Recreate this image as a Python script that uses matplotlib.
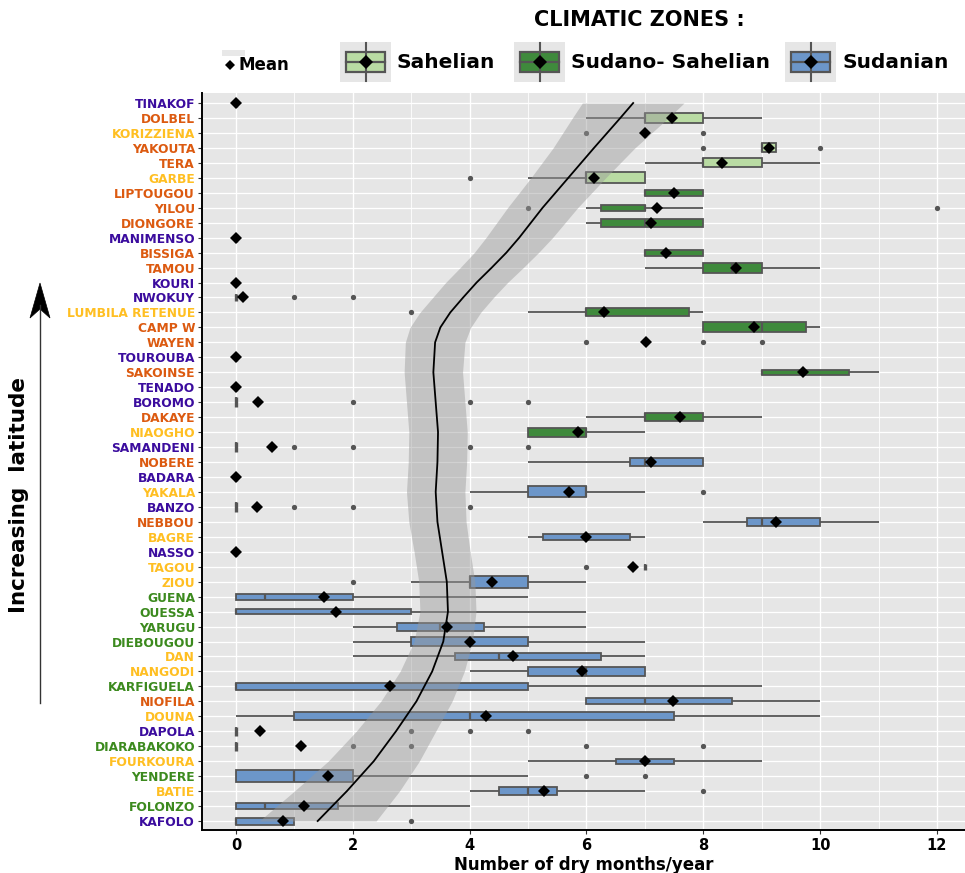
import matplotlib
matplotlib.use("Agg")
import matplotlib.pyplot as plt
from matplotlib.patches import Rectangle, Polygon

# ---------------- data ----------------
stations = ["TINAKOF", "DOLBEL", "KORIZZIENA", "YAKOUTA", "TERA", "GARBE", "LIPTOUGOU",
            "YILOU", "DIONGORE", "MANIMENSO", "BISSIGA", "TAMOU", "KOURI", "NWOKUY",
            "LUMBILA RETENUE", "CAMP W", "WAYEN", "TOUROUBA", "SAKOINSE", "TENADO",
            "BOROMO", "DAKAYE", "NIAOGHO", "SAMANDENI", "NOBERE", "BADARA", "YAKALA",
            "BANZO", "NEBBOU", "BAGRE", "NASSO", "TAGOU", "ZIOU", "GUENA", "OUESSA",
            "YARUGU", "DIEBOUGOU", "DAN", "NANGODI", "KARFIGUELA", "NIOFILA", "DOUNA",
            "DAPOLA", "DIARABAKOKO", "FOURKOURA", "YENDERE", "BATIE", "FOLONZO", "KAFOLO"]

label_class = ["P", "O", "Y", "O", "O", "Y", "O", "O", "O", "P", "O", "O", "P", "P",
               "Y", "O", "O", "P", "O", "P", "P", "O", "Y", "P", "O", "P", "Y", "P",
               "O", "Y", "P", "Y", "Y", "G", "G", "G", "G", "Y", "Y", "G", "O", "Y",
               "P", "G", "Y", "G", "Y", "G", "P"]

zone = ["Sahelian"] * 6 + ["Sudano-Sahelian"] * 17 + ["Sudanian"] * 26

q1 =      [0, 7, 7, 9, 8, 6, 7, 6.25, 6.25, 0, 7, 8, 0, 0, 6, 8, 7, 0, 9, 0,
           0, 7, 5, 0, 6.75, 0, 5, 0, 8.75, 5.25, 0, 7, 4, 0, 0, 2.75, 3, 3.75, 5, 0,
           6, 1, 0, 0, 6.5, 0, 4.5, 0, 0]
median =  [0, 7, 7, 9, 8, 6, 7, 7, 7, 0, 7, 8.5, 0, 0, 6, 9, 7, 0, 9, 0,
           0, 7, 6, 0, 7, 0, 6, 0, 9, 6, 0, 7, 4, 0.5, 0, 3.5, 4, 4.5, 6, 0,
           7, 4, 0, 0, 7, 1, 5, 0.5, 0]
q3 =      [0, 8, 7, 9.25, 9, 7, 8, 7, 8, 0, 8, 9, 0, 0, 7.75, 9.75, 7, 0, 10.5, 0,
           0, 8, 6, 0, 8, 0, 6, 0, 10, 6.75, 0, 7, 5, 2, 3, 4.25, 5, 6.25, 7, 5,
           8.5, 7.5, 0, 0, 7.5, 2, 5.5, 1.75, 1]
whisk_lo = [0, 6, 7, 9, 7, 5, 7, 6, 6, 0, 7, 7, 0, 0, 5, 8, 7, 0, 9, 0,
            0, 6, 5, 0, 5, 0, 4, 0, 8, 5, 0, 7, 3, 0, 0, 2, 2, 2, 4, 0,
            6, 0, 0, 0, 5, 0, 4, 0, 0]
whisk_hi = [0, 9, 7, 9.25, 10, 7, 8, 8, 8, 0, 8, 10, 0, 0, 8, 10, 7, 0, 11, 0,
            0, 9, 7, 0, 8, 0, 7, 0, 11, 7, 0, 7, 6, 5, 6, 6, 7, 7, 7, 9,
            10, 10, 0, 0, 9, 5, 7, 4, 1]
means =   [0, 7.47, 7.0, 9.12, 8.32, 6.13, 7.5, 7.2, 7.1, 0, 7.37, 8.56, 0, 0.12,
           6.3, 8.86, 7.02, 0, 9.7, 0, 0.37, 7.6, 5.85, 0.62, 7.1, 0, 5.71, 0.36,
           9.24, 6.0, 0, 6.8, 4.39, 1.51, 1.72, 3.62, 4.0, 4.75, 5.93, 2.63, 7.49,
           4.28, 0.41, 1.12, 7.0, 1.58, 5.27, 1.17, 0.8]
outliers = [[], [], [6, 8], [8, 10], [], [4], [], [5, 12], [], [], [], [], [], [1, 2],
            [3], [], [6, 8, 9], [], [], [], [2, 4, 5], [], [], [1, 2, 4, 5], [], [], [8],
            [1, 2, 4], [], [], [], [6], [2], [], [], [], [], [], [], [], [], [],
            [3, 4, 5], [2, 3, 6, 8], [], [6, 7], [8], [], [3]]
# relative box thickness (fraction of row spacing)
box_thick = [0.53, 0.67, 0.53, 0.6, 0.6, 0.73, 0.4, 0.43, 0.53, 0.53, 0.4, 0.67, 0.53,
             0.53, 0.53, 0.67, 0.4, 0.53, 0.33, 0.53, 0.67, 0.53, 0.6, 0.67, 0.53, 0.53,
             0.73, 0.67, 0.53, 0.4, 0.53, 0.4, 0.8, 0.4, 0.33, 0.53, 0.6, 0.53, 0.6, 0.5,
             0.4, 0.53, 0.6, 0.6, 0.33, 0.8, 0.53, 0.37, 0.47]

# smoothed trend (loess): row position, value, band half-width
trend_row = [0, 1, 3, 5, 7, 9, 10, 11, 12, 13, 14, 15, 16, 18, 20, 22, 24, 26, 28,
             30, 32, 34, 36, 38, 40, 42, 44, 46, 48]
trend_val = [6.80, 6.58, 6.13, 5.69, 5.25, 4.85, 4.63, 4.38, 4.12, 3.89, 3.67, 3.50,
             3.41, 3.38, 3.42, 3.46, 3.45, 3.42, 3.45, 3.53, 3.61, 3.63, 3.55, 3.36,
             3.09, 2.74, 2.36, 1.90, 1.40]
trend_hw = [0.87, 0.82, 0.70, 0.64, 0.60, 0.57, 0.55, 0.54, 0.53, 0.52, 0.52, 0.52,
            0.51, 0.50, 0.50, 0.50, 0.50, 0.50, 0.49, 0.48, 0.48, 0.48, 0.50, 0.55,
            0.61, 0.68, 0.78, 0.90, 1.00]

x_ticks = [0, 2, 4, 6, 8, 10, 12]

# ---------------- styles ----------------
zone_fill = {"Sahelian": "#b9dba3", "Sudano-Sahelian": "#3f8a3c", "Sudanian": "#6c96c9"}
label_col = {"P": "#3b0c9e", "O": "#dc5a10", "Y": "#ffbf22", "G": "#3c8a1e"}
edge = "#555555"

W, H = 965, 873
fig = plt.figure(figsize=(W / 100, H / 100), dpi=100)
ax = fig.add_axes([202 / W, (H - 830) / H, (W - 202) / W, (830 - 93) / H])
ax.set_facecolor("#e6e6e6")

n = len(stations)
ax.set_ylim(n - 1 + 0.6, -0.67)
ax.set_xlim(-0.58, 12.48)

# grid
for xv in range(0, 13):
    ax.axvline(xv, color="white", lw=1.0 if xv % 2 == 0 else 0.6, zorder=0.5)
for i in range(n):
    ax.axhline(i, color="white", lw=0.9, zorder=0.5)

for i in range(n):
    h = box_thick[i]
    y = i
    degenerate = q3[i] == q1[i]
    # whiskers
    if whisk_lo[i] < q1[i]:
        ax.plot([whisk_lo[i], q1[i]], [y, y], color=edge, lw=1.3, zorder=2, solid_capstyle="butt")
    if whisk_hi[i] > q3[i]:
        ax.plot([q3[i], whisk_hi[i]], [y, y], color=edge, lw=1.3, zorder=2, solid_capstyle="butt")
    ax.add_patch(Rectangle((q1[i], y - h / 2), q3[i] - q1[i], h,
                           facecolor=zone_fill[zone[i]], edgecolor=edge, lw=1.3, zorder=2.2))
    ax.plot([median[i], median[i]], [y - h / 2, y + h / 2], color=edge,
            lw=2.4 if degenerate else 1.6, zorder=2.3, solid_capstyle="butt")
    if outliers[i]:
        ax.plot(outliers[i], [y] * len(outliers[i]), "o", color=edge, ms=3.8, mew=0, zorder=2.4)

# trend band and line
lo_band = [v - w for v, w in zip(trend_val, trend_hw)]
hi_band = [v + w for v, w in zip(trend_val, trend_hw)]
ax.fill_betweenx(trend_row, lo_band, hi_band, color="#999999", alpha=0.45, lw=0, zorder=3)
ax.plot(trend_val, trend_row, color="black", lw=1.3, zorder=4)

# means
ax.plot(means, list(range(n)), "D", color="black", ms=6.5, mew=0, zorder=5)

# axes styling
for s in ["top", "right"]:
    ax.spines[s].set_visible(False)
for s in ["left", "bottom"]:
    ax.spines[s].set_color("black")
    ax.spines[s].set_linewidth(1.4)
ax.set_yticks(range(n))
ax.set_yticklabels(stations, fontsize=8.8, fontweight="bold")
for lab, c in zip(ax.get_yticklabels(), label_class):
    lab.set_color(label_col[c])
ax.set_xticks(x_ticks)
ax.set_xticklabels([str(t) for t in x_ticks], fontsize=10.5, fontweight="bold")
ax.tick_params(axis="both", length=3, width=0.8, color="#333333", pad=2)
ax.tick_params(axis="x", pad=3)
ax.set_xlabel("Number of dry months/year", fontsize=12, fontweight="bold", labelpad=2)

# ---------------- overlay: legend, y-label arrow ----------------
ov = fig.add_axes([0, 0, 1, 1], zorder=10)
ov.set_xlim(0, W)
ov.set_ylim(H, 0)
ov.axis("off")
ov.patch.set_alpha(0)

ov.text(639, 20, "CLIMATIC ZONES :", ha="center", va="center", fontsize=15, fontweight="bold")

# Mean item
ov.add_patch(Rectangle((222, 50), 23, 6, facecolor="#e8e8e8", lw=0))
ov.plot([230], [65], "D", color="black", ms=5.5, mew=0)
ov.text(238, 65, "Mean", ha="left", va="center", fontsize=12, fontweight="bold")

keys = [("Sahelian", 340, "Sahelian"), ("Sudano-Sahelian", 514, "Sudano- Sahelian"),
        ("Sudanian", 785, "Sudanian")]
for zname, kx, txt in keys:
    ov.add_patch(Rectangle((kx, 42), 51, 40, facecolor="#e6e6e6", lw=0))
    cx = kx + 25.5
    ov.plot([cx, cx], [43, 81], color=edge, lw=1.5)
    ov.add_patch(Rectangle((kx + 6, 52), 39, 20, facecolor=zone_fill[zname], edgecolor=edge, lw=1.6))
    ov.plot([kx + 6, kx + 45], [62, 62], color=edge, lw=1.6)
    ov.plot([cx], [62], "D", color="black", ms=7, mew=0)
    ov.text(kx + 57, 63, txt, ha="left", va="center", fontsize=14.5, fontweight="bold")

# y label with arrow
ov.text(19, 495, "Increasing  latitude", rotation=90, ha="center", va="center",
        fontsize=15.5, fontweight="bold")
ov.plot([40, 40], [703, 305], color="#333333", lw=1.0)
ov.add_patch(Polygon([(40, 283), (30, 318), (40, 309), (50, 318)], closed=True,
                     facecolor="black", edgecolor="black", lw=0.5))

fig.savefig("out.png", dpi=100)
